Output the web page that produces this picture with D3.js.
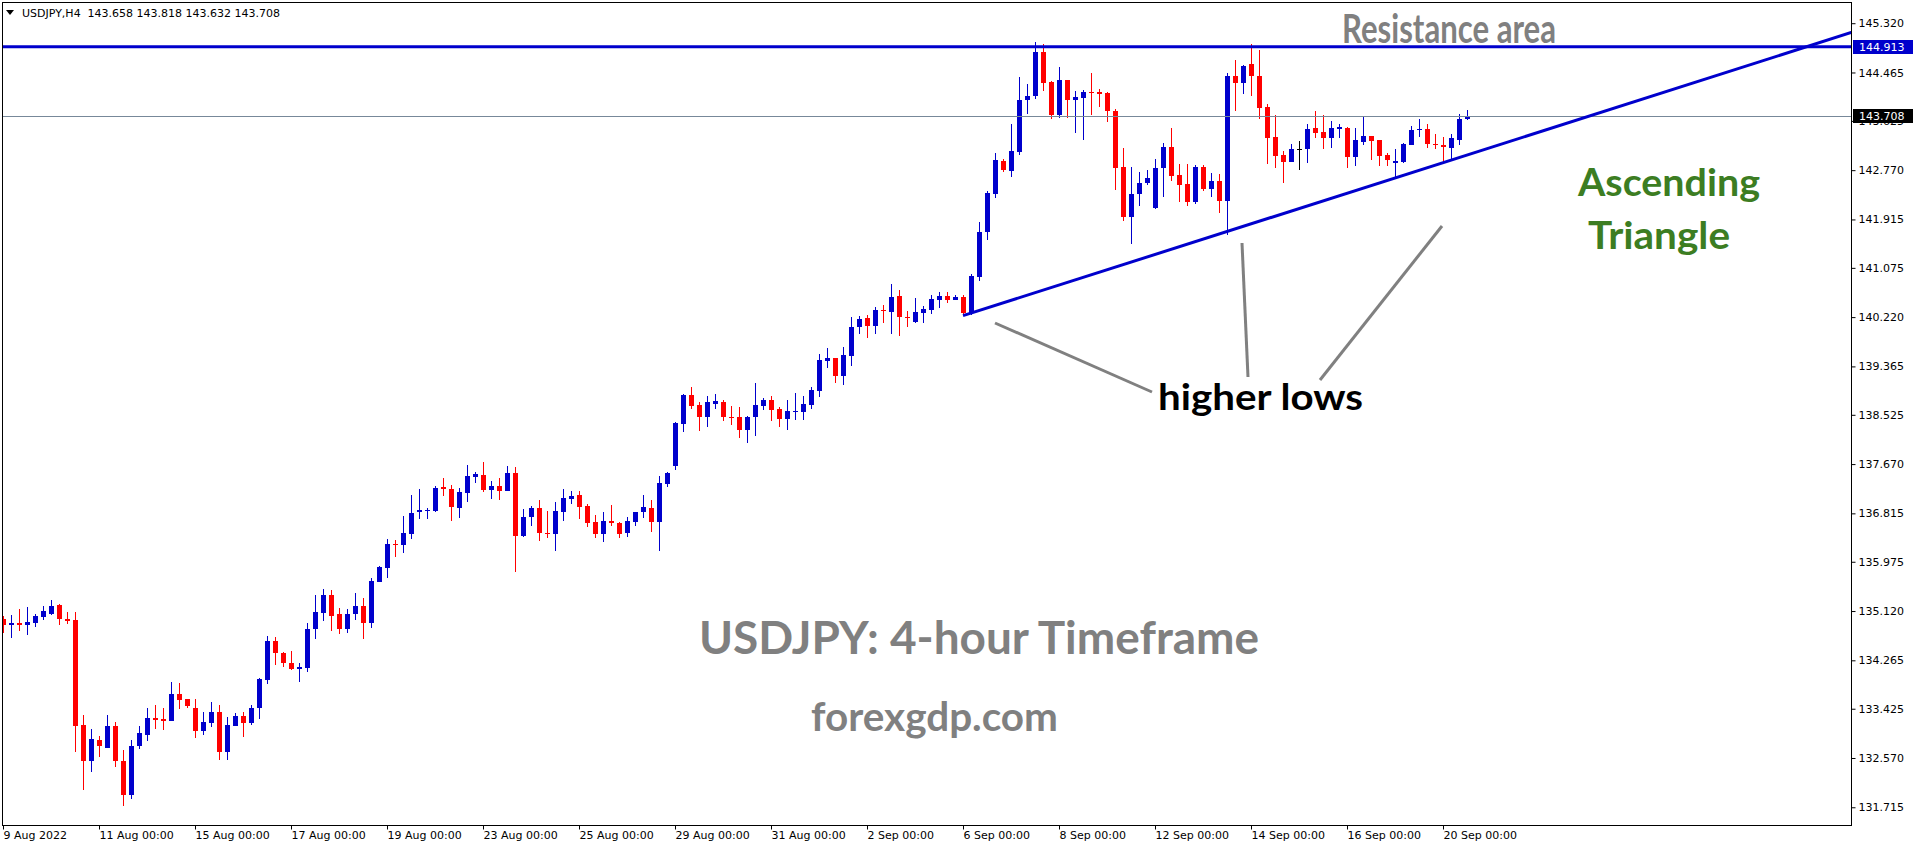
<!doctype html>
<html>
    <head>
        <meta charset="utf-8">
        <script src="https://d3js.org/d3.v7.min.js"></script>
        <style>
            html, body {
                margin: 0;
                padding: 0;
                background: #fff;
            }
            #viz svg {
                display: block;
                background-color: #fff;
            }
        </style>
    </head>
    <body>
        <div id="viz"></div>
        <script>
            // USDJPY H4 bars, 9 Aug 2022 00:00 .. 20 Sep 2022 12:00
            var openP = [
                134.98,134.87,134.91,134.88,134.92,135.02,135.06,135.22,134.98,134.96,
                133.14,132.52,132.88,132.75,133.13,132.52,131.93,132.77,132.97,133.26,
                133.25,133.22,133.68,133.59,133.44,133.03,133.18,133.37,132.68,133.13,
                133.30,133.18,133.44,133.93,134.60,134.40,134.22,134.12,134.14,134.80,
                135.09,135.40,135.07,134.80,135.06,135.21,134.92,135.63,135.87,136.28,
                136.26,136.46,136.83,136.86,136.86,137.27,137.24,136.91,137.17,137.45,
                137.48,137.22,137.29,137.20,137.52,136.43,136.76,136.91,136.48,136.45,
                136.84,137.07,137.13,136.94,136.67,136.46,136.68,136.65,136.48,136.67,
                136.83,136.91,136.67,137.33,137.64,138.37,138.87,138.70,138.49,138.72,
                138.75,138.49,138.49,138.27,138.49,138.68,138.78,138.63,138.46,138.58,
                138.58,138.70,138.93,139.46,139.51,139.20,139.55,140.04,140.21,140.07,
                140.34,140.31,140.59,140.22,140.14,140.30,140.35,140.52,140.59,140.52,
                140.57,140.30,140.92,141.69,142.36,142.93,142.76,143.09,143.98,144.05,
                144.82,144.30,143.73,144.33,143.99,144.03,144.13,144.13,144.11,143.80,
                142.83,141.95,142.35,142.54,142.12,142.80,143.17,142.69,142.53,142.21,
                142.83,142.45,142.58,142.24,144.40,144.29,144.61,144.41,143.87,143.35,
                143.03,142.92,143.14,143.13,143.50,143.43,143.32,143.49,143.50,142.99,
                143.26,143.36,143.29,143.03,142.90,142.92,143.21,143.46,143.48,143.23,
                143.20,143.16,143.30,143.658
            ];
            var highP = [
                135.03,135.05,135.16,135.19,135.07,135.21,135.31,135.24,135.10,135.10,
                133.32,133.07,132.95,133.32,133.19,132.71,132.88,133.13,133.44,133.49,
                133.44,133.89,133.87,133.59,133.59,133.37,133.54,133.49,133.28,133.35,
                133.37,133.49,133.96,134.69,134.67,134.41,134.43,134.22,134.91,135.40,
                135.50,135.48,135.17,135.16,135.43,135.35,135.69,135.90,136.37,136.35,
                136.77,137.13,137.24,136.91,137.29,137.43,137.31,137.26,137.65,137.53,
                137.71,137.38,137.43,137.64,137.62,136.89,136.94,137.05,136.86,137.01,
                137.24,137.20,137.20,136.98,136.79,136.84,136.96,136.67,136.75,136.84,
                137.13,137.05,137.46,137.53,138.40,138.89,139.01,138.75,138.85,138.89,
                138.78,138.68,138.66,138.51,139.08,138.82,138.85,138.66,138.78,138.90,
                138.85,139.01,139.58,139.68,139.51,139.70,140.22,140.24,140.26,140.40,
                140.43,140.80,140.69,140.33,140.55,140.41,140.60,140.66,140.66,140.60,
                140.60,140.97,141.87,142.41,143.07,142.96,143.57,144.39,144.27,144.99,
                144.96,144.32,144.56,144.33,144.14,144.16,144.46,144.18,144.13,143.83,
                143.16,142.83,142.74,142.77,142.96,143.24,143.50,142.88,142.88,142.86,
                142.86,142.72,142.70,144.46,144.68,144.60,144.96,144.86,143.92,143.73,
                143.10,143.22,143.28,143.57,143.80,143.72,143.62,143.57,143.52,143.50,
                143.70,143.36,143.29,143.06,143.13,143.25,143.54,143.65,143.57,143.40,
                143.35,143.39,143.75,143.818
            ];
            var lowP = [
                134.74,134.66,134.78,134.71,134.85,134.97,135.05,134.88,134.90,132.68,
                132.02,132.33,132.59,132.74,132.42,131.73,131.86,132.73,132.87,133.07,
                133.06,133.22,133.42,133.43,132.91,132.97,133.11,132.54,132.54,133.13,
                132.94,133.15,133.25,133.86,134.19,134.15,134.10,133.89,134.07,134.64,
                134.94,134.78,134.73,134.74,134.97,134.64,134.83,135.63,135.70,136.06,
                136.12,136.37,136.71,136.72,136.83,137.11,136.69,136.74,137.02,137.35,
                137.19,137.06,137.04,137.20,135.80,136.41,136.60,136.34,136.38,136.17,
                136.69,136.98,136.72,136.57,136.39,136.31,136.60,136.39,136.41,136.60,
                136.74,136.50,136.17,137.28,137.57,138.23,138.63,138.25,138.32,138.63,
                138.42,138.34,138.13,138.04,138.16,138.60,138.42,138.32,138.27,138.44,
                138.44,138.63,138.84,139.34,139.07,139.05,139.38,139.92,139.86,139.93,
                140.12,139.93,139.90,140.05,140.11,140.11,140.28,140.37,140.47,140.51,
                140.25,140.26,140.84,141.56,142.29,142.74,142.66,143.04,143.75,144.01,
                144.15,143.66,143.68,143.68,143.42,143.30,143.72,143.87,143.61,142.43,
                141.88,141.49,142.14,142.52,142.10,142.31,142.59,142.22,142.15,142.19,
                142.41,142.31,142.03,141.65,143.79,144.10,144.06,143.65,142.88,142.81,
                142.54,142.92,142.78,142.90,143.32,143.14,143.16,143.32,142.81,142.85,
                143.21,142.94,142.85,142.85,142.66,142.90,143.21,143.35,143.16,143.14,
                142.92,142.97,143.20,143.632
            ];
            var closeP = [
                134.87,134.91,134.88,134.93,135.03,135.12,135.21,134.99,134.95,133.13,
                132.52,132.90,132.77,133.13,132.51,131.92,132.78,133.00,133.26,133.23,
                133.22,133.68,133.58,133.48,133.03,133.19,133.37,132.68,133.14,133.30,
                133.18,133.44,133.94,134.60,134.40,134.21,134.12,134.15,134.81,135.10,
                135.40,135.04,134.80,135.07,135.21,134.92,135.64,135.88,136.28,136.26,
                136.47,136.82,136.87,136.87,137.26,137.23,136.93,137.19,137.46,137.49,
                137.22,137.29,137.20,137.52,136.43,136.75,136.91,136.48,136.45,136.86,
                137.08,137.12,136.93,136.65,136.46,136.68,136.64,136.46,136.68,136.84,
                136.93,136.67,137.34,137.52,138.38,138.87,138.68,138.49,138.75,138.76,
                138.48,138.475,138.27,138.49,138.70,138.78,138.61,138.46,138.59,138.59,
                138.71,138.96,139.48,139.51,139.20,139.56,140.05,140.19,140.07,140.34,
                140.33,140.57,140.23,140.21,140.31,140.36,140.53,140.59,140.52,140.57,
                140.30,140.93,141.70,142.37,142.95,142.78,143.10,143.99,144.06,144.82,
                144.29,143.73,144.33,143.99,144.04,144.13,144.12,144.10,143.79,142.81,
                141.95,142.36,142.55,142.63,142.81,143.17,142.67,142.52,142.21,142.83,
                142.45,142.58,142.24,144.40,144.29,144.58,144.41,143.85,143.33,143.02,
                142.92,143.14,143.14,143.48,143.42,143.32,143.50,143.52,142.99,143.29,
                143.36,143.28,143.02,142.95,142.93,143.23,143.47,143.48,143.23,143.20,
                143.18,143.32,143.66,143.708
            ];

            var priceTicks = [145.320, 144.465, 143.625, 142.770, 141.915, 141.075, 140.220,
                139.365, 138.525, 137.670, 136.815, 135.975, 135.120, 134.265, 133.425,
                132.570, 131.715];
            var dateIdx = [0, 12, 24, 36, 48, 60, 72, 84, 96, 108, 120, 132, 144, 156, 168, 180];
            var dateLabels = ["9 Aug 2022", "11 Aug 00:00", "15 Aug 00:00", "17 Aug 00:00",
                "19 Aug 00:00", "23 Aug 00:00", "25 Aug 00:00", "29 Aug 00:00", "31 Aug 00:00",
                "2 Sep 00:00", "6 Sep 00:00", "8 Sep 00:00", "12 Sep 00:00", "14 Sep 00:00",
                "16 Sep 00:00", "20 Sep 00:00"];

            var resistanceLevel = 144.913;
            var bidLevel = 143.708;
            var headerText = "USDJPY,H4  143.658 143.818 143.632 143.708";
            // ascending trend line: two anchors (bar index, price)
            var trendIdx = [120, 180];
            var trendPrice = [140.245, 142.90];

            var renderChart = function () {
                var w = 1916, h = 850;
                var left = 2, top = 2, right = 1852, bottom = 826;
                var blue = "#0000cc", red = "#ff0000";
                var axisFont = "'DejaVu Sans', Verdana, sans-serif";
                var noteFont = "Lato, 'Open Sans', sans-serif";

                var svg = d3.select("#viz").append("svg")
                    .attr("width", w)
                    .attr("height", h);

                var x = d3.scaleLinear().domain([0, 1]).range([3, 11]);
                var y = d3.scaleLinear().domain([131.39, 145.688]).range([bottom, top]);

                svg.append("clipPath").attr("id", "plotclip")
                    .append("rect")
                    .attr("x", left).attr("y", top)
                    .attr("width", right - left).attr("height", bottom - top);

                var plot = svg.append("g").attr("clip-path", "url(#plotclip)");

                // bars
                var bars = d3.range(openP.length).map(function (i) {
                    return {i: i, o: openP[i], h: highP[i], l: lowP[i], c: closeP[i]};
                });
                var colorOf = function (d) {
                    if (d.c > d.o) return blue;
                    if (d.c < d.o) return red;
                    return "#000";
                };

                var candles = plot.selectAll("g.candle")
                    .data(bars)
                    .enter()
                    .append("g")
                        .attr("class", "candle");

                candles.append("rect")
                    .attr("x", function (d) { return Math.round(x(d.i)); })
                    .attr("y", function (d) { return Math.round(y(d.h)); })
                    .attr("width", 1)
                    .attr("height", function (d) { return Math.max(1, Math.round(y(d.l)) - Math.round(y(d.h))); })
                    .attr("fill", colorOf);

                candles.append("rect")
                    .attr("x", function (d) { return Math.round(x(d.i)) - 2; })
                    .attr("y", function (d) { return Math.round(y(Math.max(d.o, d.c))); })
                    .attr("width", 5)
                    .attr("height", function (d) {
                        return Math.max(1, Math.round(y(Math.min(d.o, d.c))) - Math.round(y(Math.max(d.o, d.c))));
                    })
                    .attr("fill", colorOf);

                // bid line
                plot.append("line")
                    .attr("x1", left).attr("x2", right)
                    .attr("y1", Math.round(y(bidLevel)) + 0.5).attr("y2", Math.round(y(bidLevel)) + 0.5)
                    .attr("stroke", "#778899")
                    .attr("stroke-width", 1);

                // resistance line
                plot.append("line")
                    .attr("x1", left).attr("x2", right)
                    .attr("y1", y(resistanceLevel)).attr("y2", y(resistanceLevel))
                    .attr("stroke", blue)
                    .attr("stroke-width", 3);

                // trend line (ray to the right edge)
                var slope = (trendPrice[1] - trendPrice[0]) / (trendIdx[1] - trendIdx[0]);
                var endIdx = x.invert(right);
                plot.append("line")
                    .attr("x1", x(trendIdx[0])).attr("y1", y(trendPrice[0]))
                    .attr("x2", x(endIdx)).attr("y2", y(trendPrice[0] + slope * (endIdx - trendIdx[0])))
                    .attr("stroke", blue)
                    .attr("stroke-width", 3);

                // frame
                svg.append("rect")
                    .attr("x", left + 0.5).attr("y", top + 0.5)
                    .attr("width", right - left - 1).attr("height", bottom - top - 1)
                    .attr("fill", "none")
                    .attr("stroke", "#000");

                // price axis
                var yAxis = d3.axisRight(y)
                    .tickValues(priceTicks)
                    .tickSize(4)
                    .tickPadding(3)
                    .tickFormat(d3.format(".3f"));
                var gy = svg.append("g")
                    .attr("transform", "translate(" + (right - 0.5) + ",0)")
                    .call(yAxis);
                gy.select(".domain").remove();
                gy.selectAll("text")
                    .attr("font-family", axisFont)
                    .attr("font-size", 11)
                    .attr("fill", "#000");

                // date axis
                var xAxis = d3.axisBottom(x)
                    .tickValues(dateIdx)
                    .tickSize(4)
                    .tickPadding(2)
                    .tickFormat(function (d, i) { return dateLabels[i]; });
                var gx = svg.append("g")
                    .attr("transform", "translate(0," + (bottom - 0.5) + ")")
                    .call(xAxis);
                gx.select(".domain").remove();
                gx.selectAll("text")
                    .attr("text-anchor", "start")
                    .attr("font-family", axisFont)
                    .attr("font-size", 11)
                    .attr("fill", "#000");

                // price label boxes
                var tagged = [{p: resistanceLevel, bg: blue}, {p: bidLevel, bg: "#000"}];
                tagged.forEach(function (t) {
                    var cy = Math.round(y(t.p));
                    svg.append("rect")
                        .attr("x", right + 1).attr("y", cy - 7)
                        .attr("width", 60).attr("height", 14)
                        .attr("fill", t.bg);
                    svg.append("text")
                        .attr("x", right + 7).attr("y", cy + 4)
                        .attr("font-family", axisFont)
                        .attr("font-size", 11)
                        .attr("fill", "#fff")
                        .text(d3.format(".3f")(t.p));
                });

                // header
                svg.append("path")
                    .attr("d", "M6,10 L14,10 L10,15 Z")
                    .attr("fill", "#000");
                svg.append("text")
                    .attr("x", 22).attr("y", 17)
                    .attr("font-family", axisFont)
                    .attr("font-size", 11)
                    .attr("fill", "#000")
                    .attr("xml:space", "preserve")
                    .style("white-space", "pre")
                    .text(headerText);

                // pointer lines for "higher lows"
                var pointers = [
                    [[995, 323], [1152, 392]],
                    [[1242, 243], [1248, 377]],
                    [[1442, 226], [1320, 380]]
                ];
                svg.selectAll("line.pointer")
                    .data(pointers)
                    .enter()
                    .append("line")
                        .attr("class", "pointer")
                        .attr("x1", function (d) { return d[0][0]; })
                        .attr("y1", function (d) { return d[0][1]; })
                        .attr("x2", function (d) { return d[1][0]; })
                        .attr("y2", function (d) { return d[1][1]; })
                        .attr("stroke", "#808080")
                        .attr("stroke-width", 3);

                // annotations
                var notes = [
                    {t: "Resistance area", x: 1342, y: 43, size: 41, weight: 700, len: 214, color: "#808080"},
                    {t: "Ascending", x: 1578, y: 196, size: 38, weight: 700, len: 182, color: "#3c7d22"},
                    {t: "Triangle", x: 1588, y: 249, size: 38, weight: 700, len: 142, color: "#3c7d22"},
                    {t: "higher lows", x: 1158, y: 410, size: 37, weight: 700, len: 205, color: "#000"},
                    {t: "USDJPY: 4-hour Timeframe", x: 699, y: 654, size: 45, weight: 700, len: 560, color: "#808080"},
                    {t: "forexgdp.com", x: 811, y: 731, size: 40, weight: 700, len: 247, color: "#808080"}
                ];
                svg.selectAll("text.note")
                    .data(notes)
                    .enter()
                    .append("text")
                        .attr("class", "note")
                        .attr("x", function (d) { return d.x; })
                        .attr("y", function (d) { return d.y; })
                        .attr("font-family", noteFont)
                        .attr("font-size", function (d) { return d.size; })
                        .attr("font-weight", function (d) { return d.weight; })
                        .attr("fill", function (d) { return d.color; })
                        .attr("textLength", function (d) { return d.len; })
                        .attr("lengthAdjust", "spacingAndGlyphs")
                        .text(function (d) { return d.t; });
            };

            renderChart();
        </script>
    </body>
</html>
